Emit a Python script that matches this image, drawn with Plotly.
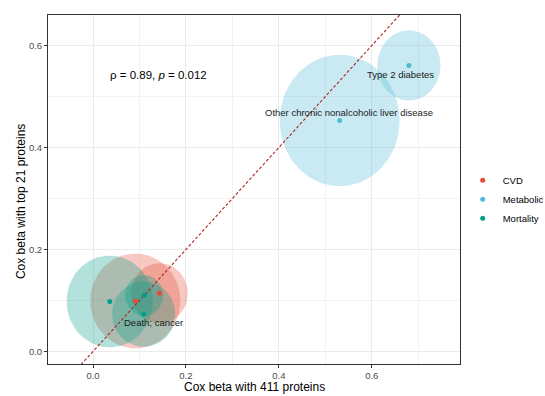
import numpy as np
import plotly.graph_objects as go

# ---- data ----
outcomes = ["CVD A", "CVD B", "Other chronic nonalcoholic liver disease", "Type 2 diabetes",
            "Mortality A", "Mortality B", "Death; cancer"]
groups = ["CVD", "CVD", "Metabolic", "Metabolic", "Mortality", "Mortality", "Mortality"]
beta_411 = [0.091, 0.143, 0.531, 0.680, 0.036, 0.110, 0.109]
beta_21 = [0.099, 0.114, 0.453, 0.561, 0.098, 0.110, 0.073]
ci_x = [0.097, 0.061, 0.129, 0.068, 0.093, 0.041, 0.068]
ci_y = [0.093, 0.059, 0.129, 0.069, 0.090, 0.040, 0.064]
shown_labels = ["Other chronic nonalcoholic liver disease", "Type 2 diabetes", "Death; cancer"]
label_pos = {"Other chronic nonalcoholic liver disease": (0.552, 0.469),
             "Type 2 diabetes": (0.662, 0.544),
             "Death; cancer": (0.130, 0.057)}
group_order = ["CVD", "Metabolic", "Mortality"]
colors = {"CVD": "#E64B35", "Metabolic": "#4DBBD5", "Mortality": "#00A087"}
fills = {"CVD": "rgba(230,75,53,0.3)", "Metabolic": "rgba(77,187,213,0.3)",
         "Mortality": "rgba(0,160,135,0.3)"}

fig = go.Figure()

# ellipses
t = np.linspace(0, 2 * np.pi, 120)
for i in range(len(outcomes)):
    g = groups[i]
    fig.add_trace(go.Scatter(
        x=beta_411[i] + ci_x[i] * np.cos(t), y=beta_21[i] + ci_y[i] * np.sin(t),
        mode="lines", fill="toself", fillcolor=fills[g], line=dict(width=0),
        hoverinfo="skip", showlegend=False))

# identity line
fig.add_trace(go.Scatter(x=[-0.2, 1.0], y=[-0.2, 1.0], mode="lines",
                         line=dict(color="#B22222", width=1.1, dash="3px,2px"),
                         showlegend=False, hoverinfo="skip"))

# points
for g in group_order:
    idx = [i for i in range(len(groups)) if groups[i] == g]
    fig.add_trace(go.Scatter(
        x=[beta_411[i] for i in idx], y=[beta_21[i] for i in idx],
        mode="markers", name=g, marker=dict(color=colors[g], size=5)))

for lab in shown_labels:
    lx, ly = label_pos[lab]
    fig.add_annotation(x=lx, y=ly, text=lab, showarrow=False,
                       font=dict(size=9.5, color="#1a1a1a"))

fig.add_annotation(x=0.140, y=0.542, text="ρ = 0.89, <i>p</i> = 0.012", showarrow=False,
                   font=dict(size=11.5, color="black"))

# axis titles
fig.add_annotation(xref="paper", yref="paper", x=0.5, y=0, yshift=-23,
                   text="Cox beta with 411 proteins", showarrow=False,
                   xanchor="center", yanchor="middle",
                   font=dict(size=12, color="black"))
fig.add_annotation(xref="paper", yref="paper", x=0, y=0.464, xshift=-27,
                   text="Cox beta with top 21 proteins", showarrow=False, textangle=-90,
                   xanchor="center", yanchor="middle",
                   font=dict(size=12, color="black"))

axis_common = dict(
    showgrid=True, gridcolor="#EBEBEB", gridwidth=1,
    zeroline=False, showline=True, mirror=True, linecolor="#333333", linewidth=1,
    ticks="outside", ticklen=3, tickcolor="#333333", tickwidth=1,
    tickfont=dict(size=9.5, color="#4D4D4D"),
    automargin=False,
    minor=dict(showgrid=True, gridcolor="#F2F2F2", gridwidth=0.5),
)

fig.update_layout(
    width=545, height=396,
    margin=dict(l=48, r=85, t=15, b=32),
    paper_bgcolor="white", plot_bgcolor="white",
    font=dict(family="Liberation Sans, Arial, sans-serif"),
    xaxis=dict(range=[-0.097, 0.790], tickvals=[0.0, 0.2, 0.4, 0.6],
               ticktext=["0.0", "0.2", "0.4", "0.6"], **axis_common),
    yaxis=dict(range=[-0.0247, 0.66], tickvals=[0.0, 0.2, 0.4, 0.6],
               ticktext=["0.0", "0.2", "0.4", "0.6"], **axis_common),
    legend=dict(xref="container", yref="container", x=0.849, y=0.497,
                xanchor="left", yanchor="middle", itemwidth=30,
                font=dict(size=9.5, color="black"), tracegroupgap=0,
                bgcolor="rgba(0,0,0,0)"),
    showlegend=True,
)
fig.update_xaxes(minor=dict(dtick=0.1))
fig.update_yaxes(minor=dict(dtick=0.1))

fig.write_html("out.html")
